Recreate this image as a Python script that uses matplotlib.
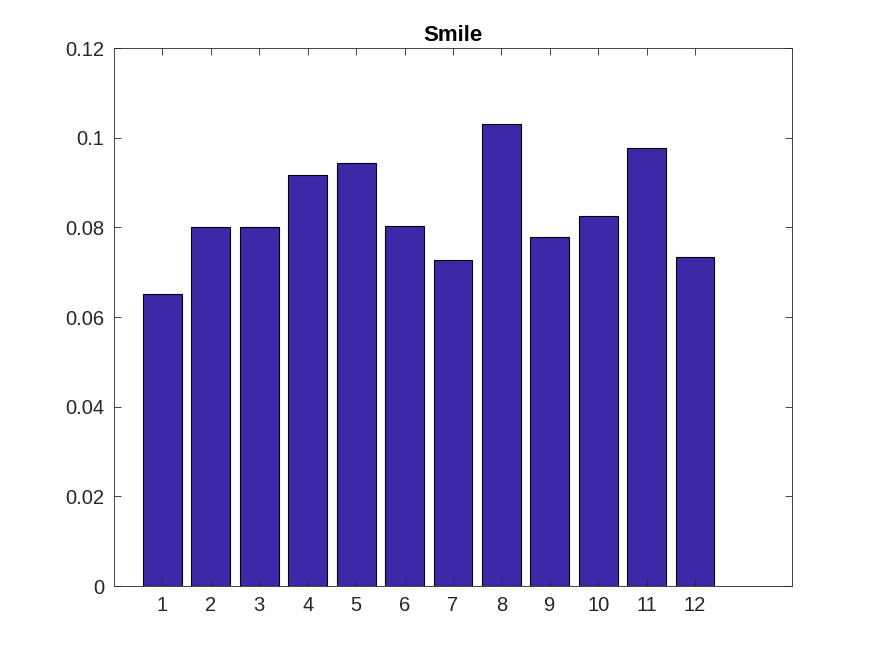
import matplotlib
matplotlib.use("Agg")
import matplotlib.pyplot as plt

# bar heights
months = list(range(1, 13))
smile = [0.0651, 0.0800, 0.0800, 0.0917, 0.0944, 0.0804,
         0.0727, 0.1031, 0.0779, 0.0825, 0.0977, 0.0734]
yticks = [0, 0.02, 0.04, 0.06, 0.08, 0.1, 0.12]
ytick_labels = ["0", "0.02", "0.04", "0.06", "0.08", "0.1", "0.12"]

BAR_COLOR = "#3e28a8"

plt.rcParams["font.family"] = ["Liberation Sans", "DejaVu Sans"]

fig = plt.figure(figsize=(8.75, 6.56), dpi=100)
ax = fig.add_axes([0.1303, 0.1067, 0.7748, 0.8201])

ax.bar(months, smile, width=0.8, color=BAR_COLOR, edgecolor="black", linewidth=0.8)

ax.set_xlim(0, 14)
ax.set_ylim(0, 0.12)
ax.set_xticks(months)
ax.set_yticks(yticks)
ax.set_yticklabels(ytick_labels)
ax.tick_params(direction="in", top=True, right=True, labelsize=14.5,
               colors="#262626", length=5, width=0.6, pad=7)
for s in ax.spines.values():
    s.set_linewidth(0.6)
    s.set_color("#262626")

ax.set_title("Smile", fontsize=16, fontweight="bold", pad=5)

fig.savefig("out.png", dpi=100)
